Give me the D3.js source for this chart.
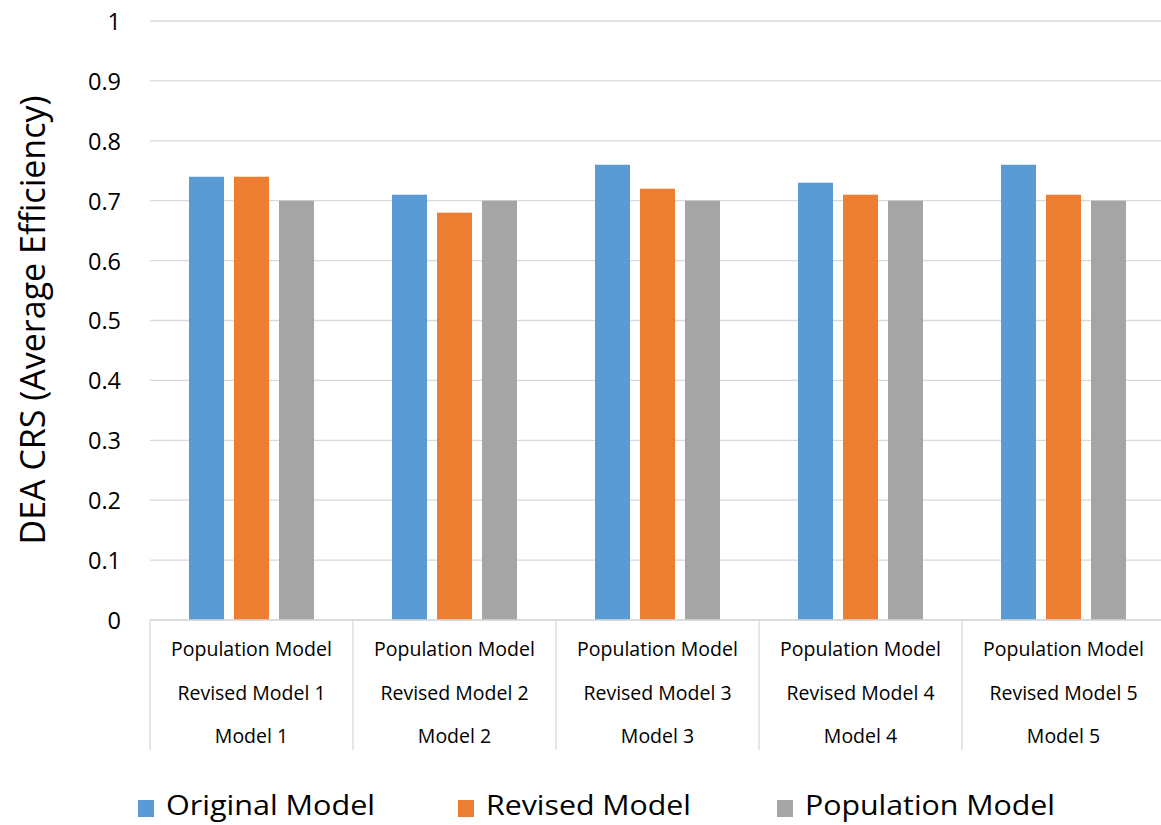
<!DOCTYPE html>
<html><head><meta charset="utf-8">
<script src="https://cdn.jsdelivr.net/npm/d3@7"></script>
<style>
body{margin:0;background:#fff;}
text{font-family:"Open Sans","Noto Sans",sans-serif;fill:#000;}
</style></head>
<body>
<svg id="c" width="1161" height="825"></svg>
<script>
const categories = ["Model 1","Model 2","Model 3","Model 4","Model 5"];
const labelRow1 = ["Population Model","Population Model","Population Model","Population Model","Population Model"];
const labelRow2 = ["Revised Model 1","Revised Model 2","Revised Model 3","Revised Model 4","Revised Model 5"];
const labelRow3 = ["Model 1","Model 2","Model 3","Model 4","Model 5"];
const seriesNames = ["Original Model","Revised Model","Population Model"];
const originalValues = [0.74,0.71,0.76,0.73,0.76];
const revisedValues = [0.74,0.68,0.72,0.71,0.71];
const populationValues = [0.70,0.70,0.70,0.70,0.70];
const yTicks = [0,0.1,0.2,0.3,0.4,0.5,0.6,0.7,0.8,0.9,1];
const colors = ["#5b9bd5","#ed7d31","#a5a5a5"];

(function(){
const svg = d3.select("#c");
const pLeft = 150, pRight = 1165, pTop = 21, pBottom = 620;
const x0 = d3.scaleBand().domain(categories).range([pLeft, pRight]).padding(0);
const x1 = d3.scaleBand().domain(seriesNames).range([0, x0.bandwidth()]).paddingInner(0.222).paddingOuter(0.867);
const y = d3.scaleLinear().domain([0,1]).range([pBottom, pTop]);

svg.append("g").selectAll("line").data(yTicks).join("line")
  .attr("x1", pLeft).attr("x2", 1161)
  .attr("y1", d=>y(d)).attr("y2", d=>y(d))
  .attr("stroke", "#d9d9d9").attr("stroke-width", 1.3);

const yAxis = d3.axisLeft(y).tickValues(yTicks).tickFormat(d=>String(+d.toFixed(1))).tickSize(0).tickPadding(0);
const ya = svg.append("g").attr("transform", `translate(${pLeft-29},0)`).call(yAxis);
ya.select(".domain").remove();
ya.selectAll("text").style("font-size","23.5px").attr("fill","#000").attr("font-family",'"Open Sans","Noto Sans",sans-serif').attr("dy","0.36em");

const series = [originalValues, revisedValues, populationValues];
series.forEach((vals, si) => {
  svg.append("g").selectAll("rect").data(vals).join("rect")
    .attr("x", (d,i)=>x0(categories[i]) + x1(seriesNames[si]))
    .attr("width", x1.bandwidth())
    .attr("y", d=>y(d))
    .attr("height", d=>y(0)-y(d))
    .attr("fill", colors[si]);
});

svg.append("line").attr("x1", pLeft).attr("x2", 1161).attr("y1", pBottom).attr("y2", pBottom)
  .attr("stroke", "#d9d9d9").attr("stroke-width", 1.3);
const bounds = categories.map(c=>x0(c)).concat([pRight]);
svg.append("g").selectAll("line").data(bounds).join("line")
  .attr("x1", d=>d).attr("x2", d=>d).attr("y1", pBottom).attr("y2", 750)
  .attr("stroke", "#d9d9d9").attr("stroke-width", 1.3);
const rows = [labelRow1, labelRow2, labelRow3];
const rowY = [656, 700, 743];
rows.forEach((r, ri) => {
  svg.append("g").selectAll("text").data(r).join("text")
    .attr("x", (d,i)=>x0(categories[i]) + x0.bandwidth()/2)
    .attr("y", rowY[ri])
    .attr("text-anchor","middle")
    .style("font-size","19.5px")
    .text(d=>d);
});

svg.append("text").attr("transform", "translate(45,320) rotate(-90)")
  .attr("text-anchor","middle").style("font-size","34px").text("DEA CRS (Average Efficiency)");

const legendX = [138, 458, 777];
const legendTextLen = [209, 205, 250];
const lg = svg.append("g").selectAll("g").data(seriesNames).join("g");
lg.append("rect").attr("x",(d,i)=>legendX[i]).attr("y",800).attr("width",16).attr("height",17).attr("fill",(d,i)=>colors[i]);
lg.append("text").attr("x",(d,i)=>legendX[i]+28).attr("y",815)
  .attr("textLength",(d,i)=>legendTextLen[i]).attr("lengthAdjust","spacingAndGlyphs")
  .style("font-size","28px").text(d=>d);
})();
</script>
</body></html>
